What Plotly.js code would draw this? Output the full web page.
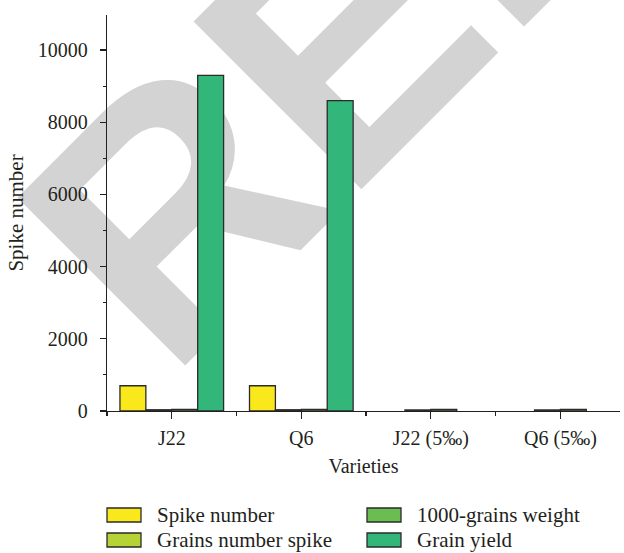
<!DOCTYPE html>
<html>
<head>
<meta charset="utf-8">
<script src="https://cdn.plot.ly/plotly-3.0.1.min.js"></script>
<style>html,body{margin:0;padding:0;background:#fff;}#chart{width:624px;height:553px;}</style>
</head>
<body>
<div id="chart"></div>
<script>
const categories = ["J22", "Q6", "J22 (5‰)", "Q6 (5‰)"];
const seriesNames = ["Spike number", "Grains number spike", "1000-grains weight", "Grain yield"];
const spikeNumber = [700, 700, null, null];
const grainsNumberSpike = [35, 35, 30, 30];
const thousandGrainsWeight = [45, 45, 45, 45];
const grainYield = [9300, 8600, null, null];
const colors = ["#f9e81c", "#b6d335", "#6abd50", "#33b679"];

const seriesValues = [spikeNumber, grainsNumberSpike, thousandGrainsWeight, grainYield];
const xIdx = categories.map((c, i) => i);
const serif = "Liberation Serif";
const ink = "#231f20";

const W = 624, H = 553, ML = 107, MR = 4, MT = 15, MB = 142;
const PW = W - ML - MR, PH = H - MT - MB;
const px = v => (v - ML) / PW;
const py = v => (H - MB - v) / PH;

const traces = seriesValues.map((vals, k) => ({
  type: "bar",
  name: seriesNames[k],
  x: xIdx,
  y: vals,
  marker: { color: colors[k], line: { color: "#2b2b2b", width: 1.3 } },
  hoverinfo: "y+name"
}));

const legendShapes = [], legendAnns = [];
seriesNames.forEach((name, k) => {
  const col = Math.floor(k / 2), row = k % 2;
  const left = 107 + col * 260, cy = 515 + row * 25;
  legendShapes.push({
    type: "rect", xref: "paper", yref: "paper",
    x0: px(left), x1: px(left + 34), y0: py(cy + 7), y1: py(cy - 7),
    fillcolor: colors[k], line: { color: "#2b2b2b", width: 1.3 }, layer: "above"
  });
  legendAnns.push({
    xref: "paper", yref: "paper", x: px(left + 48), y: py(cy),
    xanchor: "left", yanchor: "middle", showarrow: false, text: name,
    font: { family: serif, size: 21, color: ink }
  });
});

const watermark = {
  type: "rect", xref: "paper", yref: "paper", x0: px(305) - 0.2, x1: px(305) + 0.2, y0: py(30) - 0.1, y1: py(30) + 0.1,
  layer: "below", line: { width: 0 }, fillcolor: "rgba(0,0,0,0)",
  label: { text: "REF", textangle: -45, textposition: "middle center",
    font: { family: "Liberation Sans", size: 345, color: "#d3d3d3", weight: "bold" } }
};

const layout = {
  width: W, height: H,
  margin: { l: ML, r: MR, t: MT, b: MB },
  paper_bgcolor: "#fff", plot_bgcolor: "#fff",
  font: { family: serif, size: 20, color: ink },
  barmode: "group", bargap: 0.2, bargroupgap: 0,
  showlegend: false,
  xaxis: {
    range: [-0.5, 3.46], tickmode: "array", tickvals: xIdx, ticktext: categories,
    showline: true, linecolor: ink, linewidth: 1.2,
    ticks: "outside", ticklen: 7, tickcolor: ink, tickwidth: 1.2, ticklabelstandoff: 2,
    minor: { tickmode: "array", tickvals: [-0.5, 0.5, 1.5, 2.5], ticks: "outside", ticklen: 4, tickcolor: ink, tickwidth: 1.2 },
    showgrid: false, zeroline: false, fixedrange: true,
    tickfont: { family: serif, size: 20, color: ink },
    title: { text: "Varieties", standoff: 9, font: { family: serif, size: 20, color: ink } }
  },
  yaxis: {
    range: [0, 10970], dtick: 2000, tick0: 0, tickformat: "d",
    showline: true, linecolor: ink, linewidth: 1.2,
    ticks: "outside", ticklen: 6, tickcolor: ink, tickwidth: 1.2, ticklabelstandoff: 8,
    minor: { dtick: 1000, ticks: "outside", ticklen: 3, tickcolor: ink, tickwidth: 1.2 },
    showgrid: false, zeroline: false, fixedrange: true,
    tickfont: { family: serif, size: 20, color: ink },
    title: { text: "Spike number", standoff: 8, font: { family: serif, size: 21, color: ink } }
  },
  shapes: [watermark].concat(legendShapes),
  annotations: legendAnns
};

Plotly.newPlot("chart", traces, layout, { displayModeBar: false, staticPlot: true });
</script>
</body>
</html>
